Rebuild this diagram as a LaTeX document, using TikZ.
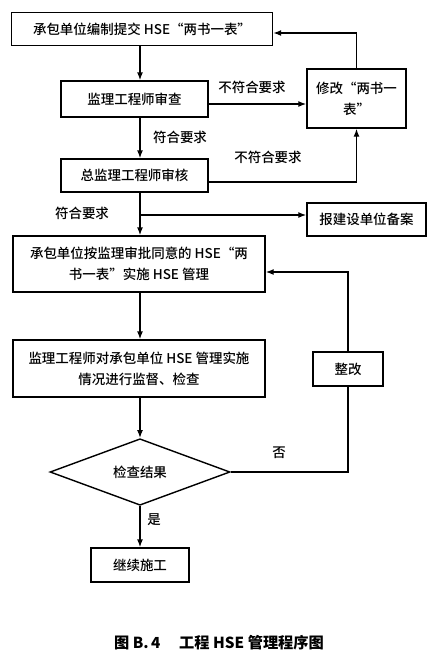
\documentclass[tikz,border=0pt]{standalone}
\usepackage{fontspec}
\setmainfont{Noto Sans CJK SC Medium}
\usetikzlibrary{shapes.geometric,arrows.meta,positioning}

\begin{document}
\begin{tikzpicture}[
    x=0.03cm, y=-0.03cm,
    box/.style={rectangle, draw, line width=1.2pt, align=center, inner sep=2pt, font=\fontsize{11.5}{18}\selectfont},
    decision/.style={diamond, draw, line width=1.2pt, inner sep=0pt, minimum width=5.4cm, minimum height=1.83cm, font=\fontsize{11.5}{14}\selectfont},
    arrow/.style={-{Latex[length=2.4mm,width=1.8mm]}, line width=1.2pt},
    link/.style={line width=1.2pt},
    note/.style={font=\fontsize{11.5}{14}\selectfont}
]
    \useasboundingbox (0,0) rectangle (438,659);
    \coordinate (spine) at (140,0);
    % main column
    \node[box, minimum width=7.83cm, minimum height=0.99cm] (submit) at (142,29) {承包单位编制提交 HSE“两书一表”};
    \node[box, minimum width=4.41cm, minimum height=1.08cm] (review) at (134.5,99) {监理工程师审查};
    \node[box, minimum width=4.41cm, minimum height=0.99cm] (chief) at (134.5,175.5) {总监理工程师审核};
    \node[box, minimum width=7.56cm, minimum height=1.68cm] (apply) at (139,264) {承包单位按监理审批同意的 HSE“两\\书一表”实施 HSE 管理};
    \node[box, minimum width=7.56cm, minimum height=1.71cm] (inspect) at (139,368.5) {监理工程师对承包单位 HSE 管理实施\\情况进行监督、检查};
    \node[decision] (result) at (140,472) {检查结果};
    \node[box, minimum width=2.94cm, minimum height=1.02cm] (goon) at (140,565) {继续施工};
    % right column
    \node[box, minimum width=2.97cm, minimum height=1.77cm] (amend) at (356.5,98.5) {修改“两书一\\表”};
    \node[box, minimum width=3.57cm, minimum height=0.99cm] (record) at (366.5,219.5) {报建设单位备案};
    \node[box, minimum width=2.1cm, minimum height=1.02cm] (rectify) at (348,369) {整改};
    \coordinate (fork) at (spine |- 0,215);
    % labels
    \node[note] (fail1) at (252,87) {不符合要求};
    \node[note] (pass1) at (180,137) {符合要求};
    \node[note] (fail2) at (268,157) {不符合要求};
    \node[note] (pass2) at (82,213) {符合要求};
    \node[note] (no) at (279,453) {否};
    \node[note] (yes) at (154,520) {是};
    % connectors
    \draw[arrow] (submit.south -| spine) -- (review.north -| spine);
    \draw[arrow] ([yshift=-0.15cm]review.east) -- ([yshift=-0.15cm]review.east -| amend.west);
    \draw[arrow] (review.south -| spine) -- (chief.north -| spine);
    \draw[arrow] ([yshift=-0.2cm]chief.east) -| (amend.south);
    \draw[arrow] (amend.north) |- ([yshift=-0.12cm]submit.east);
    \draw[arrow] (chief.south -| spine) -- (apply.north -| spine);
    \draw[arrow] (fork) -- (fork -| record.west);
    \draw[arrow] (apply.south -| spine) -- (inspect.north -| spine);
    \draw[arrow] (inspect.south -| spine) -- (result.north);
    \draw[arrow] (result.south) -- (goon.north);
    \draw[link] (result.east) -| (rectify.south);
    \draw[arrow] (rectify.north) |- ([yshift=-0.24cm]apply.east);
    % caption
    \node[font=\fontsize{13}{16}\selectfont\bfseries] (caption) at (219,643) {图 B.\,4\quad\ 工程 HSE 管理程序图};
\end{tikzpicture}
\end{document}
